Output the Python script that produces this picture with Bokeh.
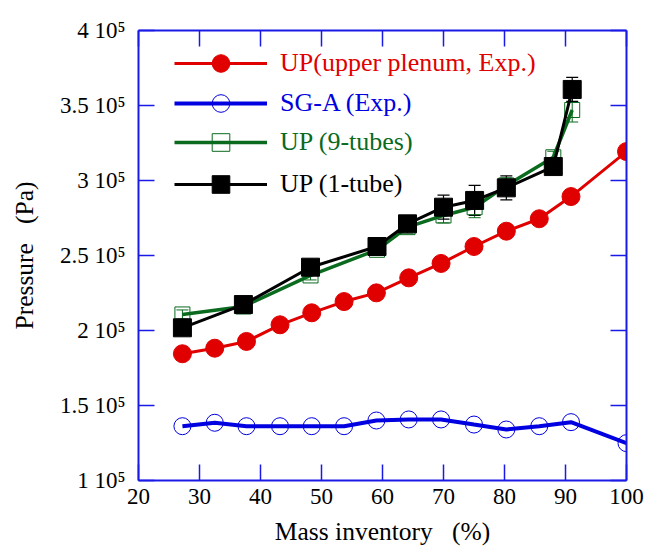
from bokeh.plotting import figure
from bokeh.models import (LinearAxis, FixedTicker, Legend, LegendItem,
                          ColumnDataSource, Whisker, TeeHead, Range1d)
from bokeh.embed import file_html
from bokeh.resources import INLINE

# ---- data ----
x_exp = [27.2, 32.5, 37.7, 43.2, 48.4, 53.7, 59.0, 64.3, 69.6, 75.0, 80.3, 85.7, 90.9, 100.0]
p_up_exp = [1.845e5, 1.882e5, 1.927e5, 2.038e5, 2.118e5, 2.193e5, 2.251e5, 2.351e5,
            2.447e5, 2.560e5, 2.662e5, 2.745e5, 2.893e5, 3.193e5]
p_sg_exp = [1.362e5, 1.385e5, 1.362e5, 1.362e5, 1.362e5, 1.362e5, 1.400e5, 1.407e5,
            1.407e5, 1.373e5, 1.340e5, 1.362e5, 1.389e5, 1.249e5]

x_sim = [27.2, 37.2, 48.2, 59.1, 64.1, 70.0, 75.1, 80.3, 88.0, 91.1]
p_9tubes = [2.107e5, 2.160e5, 2.367e5, 2.538e5, 2.689e5, 2.767e5, 2.822e5, 2.967e5, 3.155e5, 3.470e5]
err_9tubes = [0.03e5, 0.02e5, 0.03e5, 0.03e5, 0.04e5, 0.05e5, 0.07e5, 0.05e5, 0.04e5, 0.08e5]
p_1tube = [2.018e5, 2.173e5, 2.422e5, 2.560e5, 2.711e5, 2.822e5, 2.867e5, 2.951e5, 3.093e5, 3.607e5]
err_1tube = [0.02e5, 0.02e5, 0.03e5, 0.03e5, 0.05e5, 0.08e5, 0.10e5, 0.08e5, 0.05e5, 0.08e5]

x_ticks = [20, 30, 40, 50, 60, 70, 80, 90, 100]
y_ticks = [1e5, 1.5e5, 2e5, 2.5e5, 3e5, 3.5e5, 4e5]
y_tick_labels = ["1 10\u2075", "1.5 10\u2075", "2 10\u2075", "2.5 10\u2075",
                 "3 10\u2075", "3.5 10\u2075", "4 10\u2075"]

labels = ["UP(upper plenum, Exp.)", "SG-A (Exp.)", "UP (9-tubes)", "UP (1-tube)"]

RED = "#e00000"
BLUE = "#0000e0"
GREEN = "#0a6a1e"
BLACK = "#000000"
AXIS = "#1a1ae6"
FONT = "Liberation Serif"
NB = "\u00a0"

p = figure(width=646, height=548, output_backend="svg", toolbar_location=None,
           x_range=Range1d(20, 100), y_range=Range1d(1e5, 4e5),
           min_border_left=138, min_border_right=20, min_border_top=30,
           min_border_bottom=68)
p.xgrid.visible = False
p.ygrid.visible = False
p.outline_line_color = None
p.background_fill_color = "white"
p.border_fill_color = "white"


def style_axis(ax, ticks, show_labels):
    ax.ticker = FixedTicker(ticks=ticks)
    ax.axis_line_color = AXIS
    ax.axis_line_width = 2
    ax.major_tick_line_color = AXIS
    ax.major_tick_line_width = 1.5
    ax.major_tick_in = 16
    ax.major_tick_out = 0
    ax.minor_tick_line_color = None
    ax.major_label_text_font = FONT
    ax.major_label_text_color = "black"
    ax.major_label_text_font_size = "23px"
    if not show_labels:
        ax.major_label_overrides = {t: "" for t in ticks}
        ax.major_label_standoff = 0


xa = p.xaxis[0]
ya = p.yaxis[0]
style_axis(xa, x_ticks, True)
style_axis(ya, y_ticks, True)
xa.major_label_standoff = 8
ya.major_label_standoff = 13
ya.major_label_overrides = {t: l for t, l in zip(y_ticks, y_tick_labels)}
xa.axis_label = "Mass inventory" + NB * 3 + "(%)"
ya.axis_label = "Pressure" + NB * 3 + "(Pa)"
for ax in (xa, ya):
    ax.axis_label_text_font = FONT
    ax.axis_label_text_font_size = "25.5px"
    ax.axis_label_text_font_style = "normal"
    ax.axis_label_text_color = "black"
xa.axis_label_standoff = 10
ya.axis_label_standoff = 18

top = LinearAxis()
style_axis(top, x_ticks, False)
p.add_layout(top, "above")
right = LinearAxis()
style_axis(right, y_ticks, False)
p.add_layout(right, "right")

# ---- series ----
src_up = ColumnDataSource(dict(x=x_exp, y=p_up_exp))
src_sg = ColumnDataSource(dict(x=x_exp, y=p_sg_exp))
src_9 = ColumnDataSource(dict(x=x_sim, y=p_9tubes,
                              lo=[v - e for v, e in zip(p_9tubes, err_9tubes)],
                              hi=[v + e for v, e in zip(p_9tubes, err_9tubes)]))
src_1 = ColumnDataSource(dict(x=x_sim, y=p_1tube,
                              lo=[v - e for v, e in zip(p_1tube, err_1tube)],
                              hi=[v + e for v, e in zip(p_1tube, err_1tube)]))

l_up = p.line("x", "y", source=src_up, line_color=RED, line_width=3)
s_up = p.scatter("x", "y", source=src_up, marker="circle", size=18,
                 fill_color=RED, line_color=RED)

l_sg = p.line("x", "y", source=src_sg, line_color=BLUE, line_width=4)
s_sg = p.scatter("x", "y", source=src_sg, marker="circle", size=17,
                 fill_color=None, line_color=BLUE, line_width=1)

l_9 = p.line("x", "y", source=src_9, line_color=GREEN, line_width=3.5)
s_9 = p.scatter("x", "y", source=src_9, marker="square", size=15,
                fill_color=None, line_color=GREEN, line_width=1)
p.add_layout(Whisker(base="x", lower="lo", upper="hi", source=src_9,
                     dimension="height", line_color=GREEN, line_width=1,
                     upper_head=TeeHead(size=12, line_color=GREEN, line_width=1),
                     lower_head=TeeHead(size=12, line_color=GREEN, line_width=1)))

l_1 = p.line("x", "y", source=src_1, line_color=BLACK, line_width=3)
s_1 = p.scatter("x", "y", source=src_1, marker="square", size=18,
                fill_color=BLACK, line_color=BLACK)
p.add_layout(Whisker(base="x", lower="lo", upper="hi", source=src_1,
                     dimension="height", line_color=BLACK, line_width=1.2,
                     upper_head=TeeHead(size=12, line_color=BLACK, line_width=1.2),
                     lower_head=TeeHead(size=12, line_color=BLACK, line_width=1.2)))

# ---- legends (one per entry so each label keeps its series colour) ----
entries = [(labels[0], [l_up, s_up], RED),
           (labels[1], [l_sg, s_sg], BLUE),
           (labels[2], [l_9, s_9], GREEN),
           (labels[3], [l_1, s_1], BLACK)]
legend_y = [395, 355, 316, 274]
for (lab, rends, col), ly in zip(entries, legend_y):
    lg = Legend(items=[LegendItem(label=lab, renderers=rends)],
                location=(36, ly),
                glyph_width=93, glyph_height=44, label_height=44,
                label_standoff=13, padding=0, margin=0, spacing=0,
                border_line_color=None, background_fill_alpha=0,
                label_text_font=FONT, label_text_font_size="26px",
                label_text_color=col)
    p.add_layout(lg, "center")

open("out.html", "w").write(file_html(p, INLINE))
